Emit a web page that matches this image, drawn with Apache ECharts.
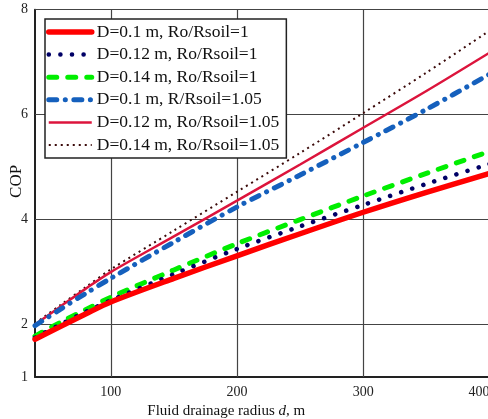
<!DOCTYPE html>
<html><head><meta charset="utf-8">
<script src="https://cdn.jsdelivr.net/npm/echarts@6/dist/echarts.min.js"></script>
<style>html,body{margin:0;padding:0;background:#fff}#c{width:488px;height:419px}</style>
</head><body><div id="c"></div>
<script>
const xValues = [40, 60, 80, 100, 150, 200, 250, 300, 350, 400];
const names = [
  'D=0.1 m, Ro/Rsoil=1',
  'D=0.12 m, Ro/Rsoil=1',
  'D=0.14 m, Ro/Rsoil=1',
  'D=0.1 m, R/Rsoil=1.05',
  'D=0.12 m, Ro/Rsoil=1.05',
  'D=0.14 m, Ro/Rsoil=1.05'
];
const copD010R100 = [1.72, 1.96, 2.20, 2.43, 2.88, 3.31, 3.73, 4.14, 4.52, 4.88];
const copD012R100 = [1.75, 2.00, 2.24, 2.46, 2.96, 3.44, 3.87, 4.28, 4.68, 5.06];
const copD014R100 = [1.78, 2.04, 2.28, 2.52, 3.04, 3.54, 4.00, 4.45, 4.88, 5.30];
const copD010R105 = [1.98, 2.29, 2.59, 2.88, 3.57, 4.24, 4.85, 5.47, 6.10, 6.77];
const copD012R105 = [2.00, 2.34, 2.68, 3.00, 3.68, 4.36, 5.05, 5.75, 6.45, 7.18];
const copD014R105 = [2.02, 2.37, 2.71, 3.05, 3.79, 4.53, 5.27, 6.03, 6.80, 7.60];
const yTickLabels = [1, 2, 4, 6, 8];
const xTickLabels = [100, 200, 300, 400];
const yGrid = [2, 4, 6, 8];
const xGrid = [100, 200, 300];

const seriesValues = [copD010R100, copD012R100, copD014R100, copD010R105, copD012R105, copD014R105];
const styles = [
  {color:'#ff0000', width:5.5, type:'solid', cap:'round'},
  {color:'#000066', width:4.5, type:[0.1, 11.5], cap:'round'},
  {color:'#00ee00', width:5, type:[8, 11], cap:'round'},
  {color:'#1560bd', width:5, type:[8, 8.5, 0.1, 8.5], cap:'round'},
  {color:'#dc143c', width:2.5, type:'solid', cap:'butt'},
  {color:'#3b0a0a', width:2, type:[2, 4], cap:'butt'}
];
const serif = '"Liberation Serif", "DejaVu Serif", serif';

const series = seriesValues.map((vals, i) => ({
  name: names[i],
  type: 'line',
  smooth: 0.3,
  symbol: 'none',
  z: 10 - i,
  data: xValues.map((x, j) => [x, vals[j]]),
  lineStyle: {color: styles[i].color, width: styles[i].width, type: styles[i].type, cap: styles[i].cap},
  itemStyle: {color: styles[i].color}
}));
series.push({
  name: 'grid',
  type: 'line',
  data: [],
  z: 1,
  silent: true,
  markLine: {
    silent: true,
    symbol: 'none',
    label: {show: false},
    lineStyle: {color: '#444', width: 1.2, type: 'solid'},
    data: yGrid.map(v => ({yAxis: v})).concat(xGrid.map(v => ({xAxis: v})))
  }
});

const chart = echarts.init(document.getElementById('c'), null, {renderer: 'canvas'});
chart.setOption({
  animation: false,
  backgroundColor: '#fff',
  grid: {left: 35, top: 9.7, right: -1.5, bottom: 42, containLabel: false, outerBoundsMode: 'none'},
  legend: {
    orient: 'vertical',
    left: 45,
    top: 19,
    padding: [4, 7, 4, 1],
    itemWidth: 43,
    itemHeight: 14,
    itemGap: 4.6,
    backgroundColor: '#fff',
    borderColor: '#222',
    borderWidth: 1.5,
    borderRadius: 0,
    z: 20,
    textStyle: {fontFamily: serif, fontSize: 17.5, color: '#111', lineHeight: 18},
    data: names.map((n, i) => ({
      name: n,
      itemStyle: {opacity: 0},
      lineStyle: {color: styles[i].color, width: styles[i].width, type: styles[i].type, cap: styles[i].cap, opacity: 1}
    }))
  },
  xAxis: {
    type: 'value',
    min: 40, max: 400, interval: 20,
    name: 'Fluid drainage radius {i|d}, m',
    nameLocation: 'middle',
    nameGap: 26,
    nameTextStyle: {fontFamily: serif, fontSize: 15, color: '#111', padding: [0, 72, 0, 0],
      rich: {i: {fontFamily: serif, fontSize: 15, fontStyle: 'italic', color: '#111'}}},
    axisLine: {lineStyle: {color: '#222', width: 2}},
    axisTick: {show: false},
    splitLine: {show: false},
    axisLabel: {
      fontFamily: serif, fontSize: 14, color: '#222', margin: 8,
      alignMaxLabel: 'right',
      formatter: v => (xTickLabels.indexOf(v) >= 0 ? String(v) : '')
    }
  },
  yAxis: {
    type: 'value',
    min: 1, max: 8, interval: 1,
    name: 'COP',
    nameLocation: 'middle',
    nameRotate: 90,
    nameGap: 10,
    nameMoveOverlap: false,
    nameTextStyle: {fontFamily: serif, fontSize: 17, color: '#111', padding: [0, 0, 0, 24]},
    axisLine: {show: true, lineStyle: {color: '#222', width: 2}},
    axisTick: {show: false},
    splitLine: {show: false},
    axisLabel: {
      fontFamily: serif, fontSize: 14, color: '#222', margin: 7,
      formatter: v => (yTickLabels.indexOf(v) >= 0 ? String(v) : '')
    }
  },
  series: series
});
</script></body></html>
